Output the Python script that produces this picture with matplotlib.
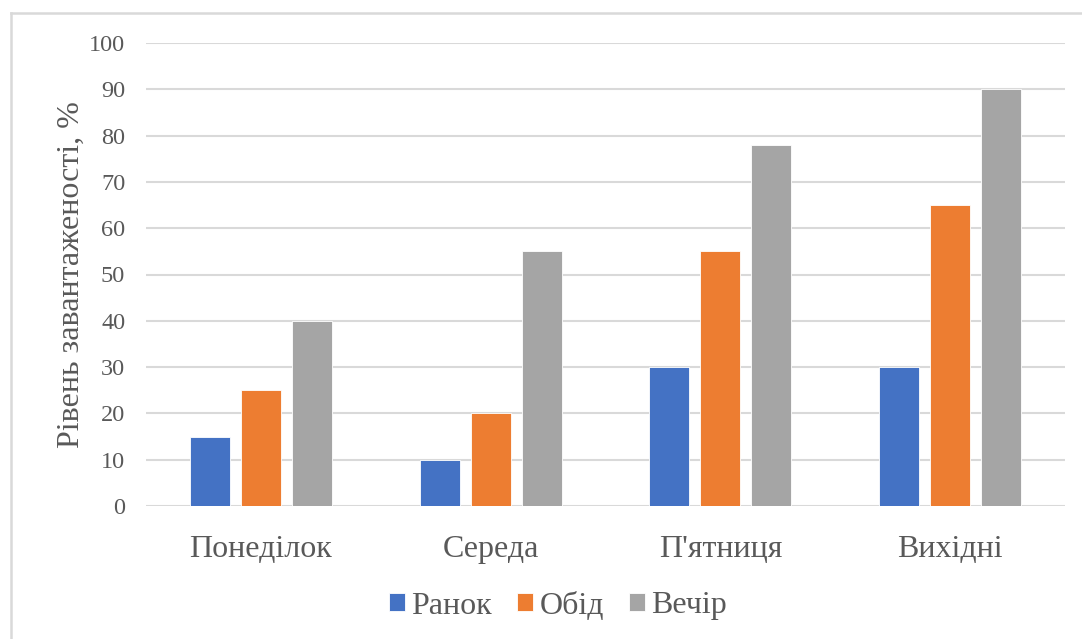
import numpy as np
import matplotlib.pyplot as plt
from matplotlib.lines import Line2D

days = ["Понеділок", "Середа", "П'ятниця", "Вихідні"]
morning = [15, 10, 30, 30]
lunch = [25, 20, 55, 65]
evening = [40, 55, 78, 90]
series_names = ["Ранок", "Обід", "Вечір"]
colors = ["#4472c4", "#ed7d31", "#a5a5a5"]

plt.rcParams['font.family'] = ['Liberation Serif', 'DejaVu Serif']
text_color = "#595959"

fig = plt.figure(figsize=(10.82, 6.39), dpi=100)
ax = fig.add_axes([146/1082, 1 - 506/639, (1065 - 146)/1082, (506 - 43)/639])

x = np.arange(len(days))
width = 0.174
step = 0.222
for i, (vals, name, c) in enumerate(zip([morning, lunch, evening], series_names, colors)):
  ax.bar(x + (i - 1) * step, vals, width, color=c, label=name, zorder=3,
         edgecolor="white", linewidth=0.6)

ax.set_xlim(-0.5, len(days) - 0.5)
ax.set_ylim(0, 100)
ax.set_yticks(range(0, 101, 10))
ax.set_xticks(x)
ax.set_xticklabels(days)
ax.grid(axis='y', color="#d9d9d9", linewidth=1.5, zorder=0)
for s in ax.spines.values():
  s.set_visible(False)
ax.tick_params(axis='y', length=0, pad=15, labelsize=17.5, labelcolor=text_color)
ax.tick_params(axis='x', length=0, pad=21, labelsize=23, labelcolor=text_color)
ax.set_ylabel("Рівень завантаженості, %", fontsize=23, color=text_color, labelpad=2)

leg = fig.legend(loc='center', bbox_to_anchor=(558/1082, 1 - 606/639), ncol=3,
                 frameon=False, fontsize=23, handlelength=0.5, handleheight=0.5,
                 handletextpad=0.2, columnspacing=0.78, labelcolor=text_color)

# light frame around the chart
fig.add_artist(Line2D([11/1082, 11/1082], [0, 1 - 13/639], transform=fig.transFigure,
                      color="#d9d9d9", linewidth=1.8))
fig.add_artist(Line2D([11/1082, 1], [1 - 13/639, 1 - 13/639], transform=fig.transFigure,
                      color="#d9d9d9", linewidth=1.8))

plt.savefig("out.png", dpi=100)
